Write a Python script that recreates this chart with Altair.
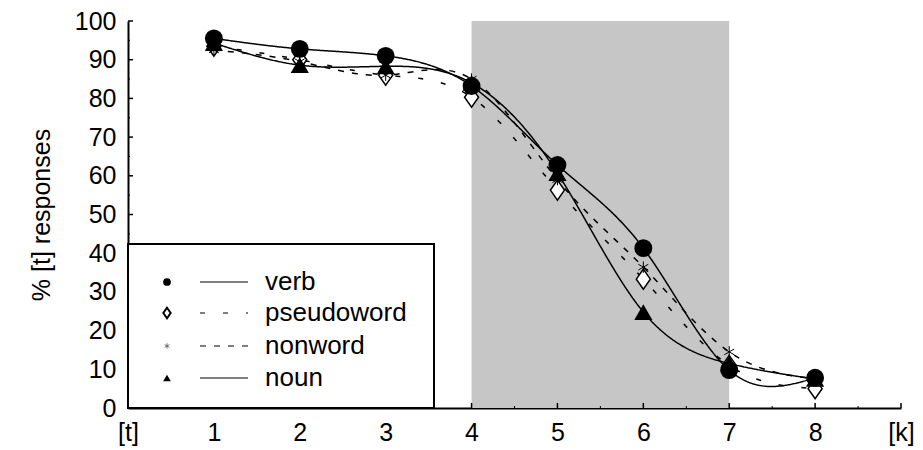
import json
import altair as alt
import pandas as pd

# ---------------- data ----------------
steps = [1, 2, 3, 4, 5, 6, 7, 8]
verb = [95.5, 92.8, 91.0, 83.2, 62.8, 41.3, 9.8, 7.8]
pseudoword = [93.5, 90.0, 86.0, 80.3, 56.3, 33.3, 11.0, 5.0]
nonword = [92.5, 89.5, 86.0, 85.0, 59.0, 36.4, 14.5, 7.5]
noun = [94.3, 88.6, 88.3, 84.0, 60.7, 24.8, 11.5, 7.5]
series_names = ["verb", "pseudoword", "nonword", "noun"]
x_tick_values = [0, 1, 2, 3, 4, 5, 6, 7, 8, 9]
x_tick_labels = ["[t]", "1", "2", "3", "4", "5", "6", "7", "8", "[k]"]
y_tick_values = [0, 10, 20, 30, 40, 50, 60, 70, 80, 90, 100]
y_minor_values = [5, 15, 25, 35, 45, 55, 65, 75, 85, 95]
x_minor_values = [0.5, 1.5, 2.5, 3.5, 4.5, 5.5, 6.5, 7.5, 8.5]
shade_start, shade_end = 4, 7
y_title = "% [t] responses"

FONT = "Liberation Sans"
FS = 25
LFS = 26
W, H = 773, 387

rows = []
for name, vals in zip(series_names, [verb, pseudoword, nonword, noun]):
    for s, v in zip(steps, vals):
        rows.append({"step": s, "pct": v, "series": name})
df = pd.DataFrame(rows)

dash_map = {"verb": [1, 0], "pseudoword": [5, 18], "nonword": [6, 8], "noun": [1, 0]}

xscale = alt.Scale(domain=[0, 9], nice=False, zero=False)
yscale = alt.Scale(domain=[0, 100], nice=False)

label_expr = json.dumps(x_tick_labels) + "[datum.value]"

xax = alt.Axis(values=x_tick_values, labelExpr=label_expr, title=None, ticks=False,
               grid=False, domainWidth=2, domainColor="black", labelFont=FONT,
               labelFontSize=FS, labelColor="black", labelPadding=12,
               labelFlush=False, labelOverlap=False)
yax = alt.Axis(values=y_tick_values, title=y_title, ticks=False, grid=False,
               domainWidth=2, domainColor="black", labelFont=FONT, labelFontSize=FS,
               labelColor="black", labelPadding=12, titleFont=FONT, titleFontSize=FS,
               titleFontWeight="normal", titleColor="black", titlePadding=20,
               labelFlush=False, labelOverlap=False)

base = alt.Chart(df)

shade = alt.Chart(pd.DataFrame({"a": [shade_start], "b": [shade_end]})).mark_rect(
    color="#c6c6c6").encode(
    x=alt.X("a:Q", scale=xscale, axis=xax),
    x2="b:Q",
    y=alt.value(0), y2=alt.value(H))

lines = base.mark_line(interpolate="natural", color="black", strokeWidth=1.5).encode(
    x=alt.X("step:Q", scale=xscale, axis=xax),
    y=alt.Y("pct:Q", scale=yscale, axis=yax),
    detail="series:N",
    strokeDash=alt.StrokeDash("series:N", scale=alt.Scale(
        domain=series_names, range=[dash_map[n] for n in series_names]), legend=None))

DIAMOND = "M0,-1L0.7,0L0,1L-0.7,0Z"
ASTER = "M0,-1L0,1M-0.87,-0.5L0.87,0.5M-0.87,0.5L0.87,-0.5"

def pts(name, **kw):
    return base.transform_filter(alt.datum.series == name).mark_point(**kw).encode(
        x=alt.X("step:Q", scale=xscale, axis=xax), y=alt.Y("pct:Q", scale=yscale, axis=yax))

p_pseudo = pts("pseudoword", shape=DIAMOND, size=400, filled=True, fill="white",
               stroke="black", strokeWidth=1.5, opacity=1)
p_non = pts("nonword", shape=ASTER, size=130, filled=False, stroke="black",
            strokeWidth=1, opacity=1)
p_noun = pts("noun", shape="triangle-up", size=330, filled=True, color="black", opacity=1)
p_verb = pts("verb", shape="circle", size=320, filled=True, color="black", opacity=1)

# inward ticks
yt = alt.Chart(pd.DataFrame({"v": y_tick_values})).mark_rule(color="black", strokeWidth=1.5).encode(
    y=alt.Y("v:Q", scale=yscale, axis=yax), x=alt.value(0), x2=alt.value(5))
ytm = alt.Chart(pd.DataFrame({"v": y_minor_values})).mark_rule(color="black", strokeWidth=1).encode(
    y=alt.Y("v:Q", scale=yscale, axis=yax), x=alt.value(0), x2=alt.value(2))
xt = alt.Chart(pd.DataFrame({"v": x_tick_values})).mark_rule(color="black", strokeWidth=1.5).encode(
    x=alt.X("v:Q", scale=xscale, axis=xax), y=alt.value(H), y2=alt.value(H - 5))
xtm = alt.Chart(pd.DataFrame({"v": x_minor_values})).mark_rule(color="black", strokeWidth=1).encode(
    x=alt.X("v:Q", scale=xscale, axis=xax), y=alt.value(H), y2=alt.value(H - 2))

# legend (manual)
dummy = alt.Chart(pd.DataFrame({"a": [0]}))
leg = [dummy.mark_rect(fill="white", stroke="black", strokeWidth=2).encode(
    x=alt.value(0), x2=alt.value(306), y=alt.value(223), y2=alt.value(387))]
row_y = [261, 292, 325, 357]
leg_markers = {
    "verb": dict(shape="circle", size=60, filled=True, color="black"),
    "pseudoword": dict(shape=DIAMOND, size=110, filled=True, fill="white", stroke="black", strokeWidth=2),
    "nonword": dict(shape=ASTER, size=30, filled=False, stroke="#555", strokeWidth=0.8),
    "noun": dict(shape="triangle-up", size=60, filled=True, color="black"),
}
for name, ry in zip(series_names, row_y):
    leg.append(dummy.mark_point(opacity=1, **leg_markers[name]).encode(
        x=alt.value(39), y=alt.value(ry)))
    leg.append(dummy.mark_rule(color="black", strokeWidth=1.2, strokeDash=dash_map[name]).encode(
        x=alt.value(72), x2=alt.value(120), y=alt.value(ry)))
    leg.append(dummy.mark_text(align="left", baseline="middle", font=FONT, fontSize=LFS,
                               color="black").encode(
        x=alt.value(137), y=alt.value(ry), text=alt.value(name)))

chart = alt.layer(shade, lines, p_pseudo, p_non, p_noun, p_verb, yt, ytm, xt, xtm, *leg).properties(
    width=W, height=H,
    autosize=alt.AutoSizeParams(type="none"),
    padding={"left": 120, "top": 13, "right": 14, "bottom": 40},
).configure_view(stroke=None).configure_axis(labelOverlap=False)

chart.save("out.html", embed_options={"renderer": "svg", "actions": False})
